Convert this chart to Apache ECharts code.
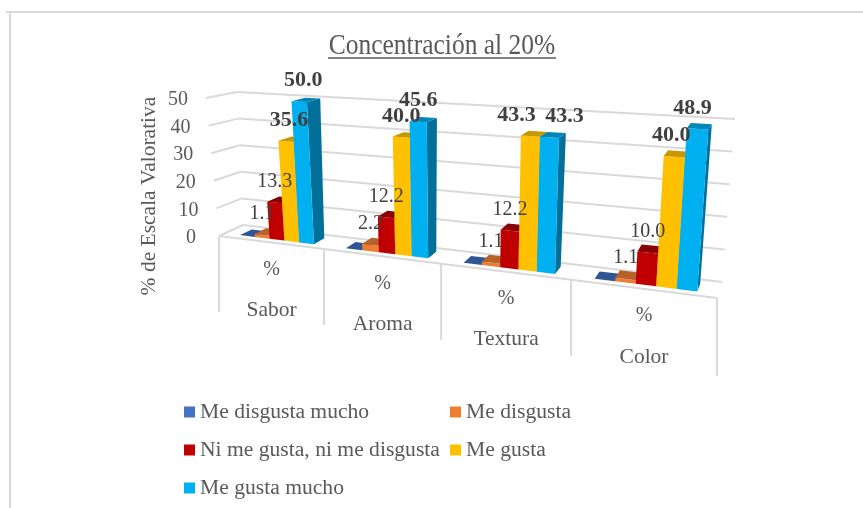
<!DOCTYPE html>
<html>
<head>
<meta charset="utf-8">
<title>Concentración al 20%</title>
<script src="https://cdn.jsdelivr.net/npm/echarts@6/dist/echarts.min.js"></script>
<style>
html, body { margin: 0; padding: 0; background: #fff; }
#chart { width: 863px; height: 508px; }
</style>
</head>
<body>
<div id="chart"></div>
<script>
// chart data
const categories = ['Sabor', 'Aroma', 'Textura', 'Color']
const yTicks = [0, 10, 20, 30, 40, 50]
const meDisgustaMucho = [0, 0, 0, 0]
const meDisgusta = [1.1, 2.2, 1.1, 1.1]
const niNi = [13.3, 12.2, 12.2, 10.0]
const meGusta = [35.6, 40.0, 43.3, 40.0]
const meGustaMucho = [50.0, 45.6, 43.3, 48.9]

const FONT = '"Liberation Serif", "Times New Roman", serif'
const TEXT = '#595959'
const LINE = '#d9d9d9'

// the value axes live on a hidden flat grid, project() tilts it into the 3D box
const flat = { left: 100, top: 100, width: 400, height: 200 }
const floorBox = { fl: [219, 236], fr: [717, 298], bl: [243, 225], br: [722, 282] }
const topBox = { fl: [206, 98], fr: [729, 130], bl: [237, 92], br: [735, 119] }
// share of the front edge taken up to each category boundary (perspective)
const edgeShare = [0, 0.211, 0.446, 0.707, 1]

const mix = (a, b, t) => [a[0] + (b[0] - a[0]) * t, a[1] + (b[1] - a[1]) * t]

function boxPoint(box, s, w) {
    return mix(mix(box.fl, box.fr, s), mix(box.bl, box.br, s), w)
}

// px,py is a point on the flat grid, w is the depth (0 front, 1 back)
function project(px, py, w) {
    let u = (px - flat.left) / flat.width * categories.length
    let i = Math.min(Math.floor(u), categories.length - 1)
    let s = edgeShare[i] + (edgeShare[i + 1] - edgeShare[i]) * (u - i)
    let v = (flat.top + flat.height - py) / flat.height
    return mix(boxPoint(floorBox, s, w), boxPoint(topBox, s, w), v)
}

function line(a, b) {
    return { type: 'line', shape: { x1: a[0], y1: a[1], x2: b[0], y2: b[1] }, style: { stroke: LINE, lineWidth: 2 } }
}

function label(text, p, size, bold, fill) {
    return {
        type: 'text',
        style: {
            text: text, x: p[0], y: p[1], fill: fill || '#404040', align: 'center', verticalAlign: 'middle',
            font: (bold ? 'bold ' : '') + size + 'px ' + FONT
        }
    }
}

function renderWall(params, api) {
    let c = api.coord([0, api.value(1)])
    let x0 = flat.left
    let x1 = flat.left + flat.width
    let front = project(x0, c[1], 0)
    let backL = project(x0, c[1], 1)
    let backR = project(x1, c[1], 1)
    let tick = label(String(api.value(1)), [front[0] - 28, front[1] + 2], 20, false, TEXT)
    return { type: 'group', children: [line(front, backL), line(backL, backR), tick] }
}

function renderCategory(params, api) {
    let i = api.value(0)
    let c = api.coord([i, 0])
    let band = api.size([1, 0])[0]
    let left = project(c[0] - band / 2, c[1], 0)
    let right = project(c[0] + band / 2 - 0.001, c[1], 0)
    let mid = mix(left, right, 0.5)
    let items = [
        line(left, right),
        line(left, [left[0], left[1] + 76]),
        label('%', [mid[0], mid[1] + 27], 20, false, TEXT),
        label(categories[i], [mid[0], mid[1] + 68], 21.5, false, TEXT)
    ]
    if (i === categories.length - 1) items.push(line(right, [right[0], right[1] + 78]))
    return { type: 'group', children: items }
}

// labels Excel had moved by hand, [series][category]
const labelShift = { '3-2': -14, '4-2': 15, '4-3': -5, '3-3': -3, '4-0': 4, '3-0': 3 }

function makeBarSeries(name, values, index, colors) {
    return {
        type: 'custom',
        name: name,
        itemStyle: { color: colors.front },
        data: values.map((v, i) => [i, v]),
        encode: { x: 0, y: 1 },
        renderItem: function (params, api) {
            let i = api.value(0)
            let value = api.value(1)
            let top = api.coord([i, value])
            let base = api.coord([i, 0])
            let band = api.size([1, 0])[0]
            let x0 = top[0] - band / 2 + band * (0.145 + index * 0.142)
            let x1 = x0 + band * 0.142
            let wf = 0.25
            let wb = 0.75
            let fTL = project(x0, top[1], wf)
            let fTR = project(x1, top[1], wf)
            let bTL = project(x0, top[1], wb)
            let bTR = project(x1, top[1], wb)
            let fBL = project(x0, base[1], wf)
            let fBR = project(x1, base[1], wf)
            let bBR = project(x1, base[1], wb)
            let faces = [
                { type: 'polygon', shape: { points: [fBR, bBR, bTR, fTR] }, style: { fill: colors.side } },
                { type: 'polygon', shape: { points: [fBL, fBR, fTR, fTL] }, style: { fill: colors.front } },
                { type: 'polygon', shape: { points: [fTL, fTR, bTR, bTL] }, style: { fill: colors.top } }
            ]
            if (value > 0) {
                let mid = mix(fTL, fTR, 0.5)
                let dx = labelShift[index + '-' + i] || 0
                let bold = index >= 3
                faces.push(Object.assign(label(value.toFixed(1), [mid[0] + dx, mid[1] - 21], bold ? 22 : 20, bold), { z2: 50 }))
            }
            return { type: 'group', children: faces }
        }
    }
}

const wallSeries = {
    type: 'custom', silent: true, data: yTicks.map(t => [0, t]), encode: { x: 0, y: 1 }, renderItem: renderWall
}
const categorySeries = {
    type: 'custom', silent: true, data: categories.map((c, i) => [i, 0]), encode: { x: 0, y: 1 }, renderItem: renderCategory
}

const names = ['Me disgusta mucho', 'Me disgusta', 'Ni me gusta, ni me disgusta', 'Me gusta', 'Me gusta mucho']
const legendText = { color: TEXT, fontFamily: FONT, fontSize: 21.6 }

const myChart = echarts.init(document.getElementById('chart'))
myChart.setOption({
    animation: false,
    backgroundColor: '#fff',
    grid: Object.assign({}, flat),
    xAxis: { type: 'category', data: categories, show: false },
    yAxis: { type: 'value', min: 0, max: 50, interval: 10, show: false },
    legend: [
        {
            left: 179, top: 396, orient: 'vertical', itemWidth: 11, itemHeight: 11, itemGap: 16,
            icon: 'rect', textStyle: legendText, data: [names[0], names[2], names[4]]
        },
        {
            left: 445, top: 396, orient: 'vertical', itemWidth: 11, itemHeight: 11, itemGap: 16,
            icon: 'rect', textStyle: legendText, data: [names[1], names[3]]
        }
    ],
    graphic: [
        { type: 'line', shape: { x1: 6, y1: 12, x2: 863, y2: 12 }, style: { stroke: LINE, lineWidth: 2 }, silent: true },
        { type: 'line', shape: { x1: 10, y1: 12, x2: 10, y2: 508 }, style: { stroke: LINE, lineWidth: 2 }, silent: true },
        {
            type: 'text', x: 442, y: 46, scaleX: 0.85, silent: true,
            style: { text: 'Concentración al 20%', fill: TEXT, font: '30px ' + FONT, align: 'center', verticalAlign: 'middle' }
        },
        { type: 'line', shape: { x1: 328, y1: 58, x2: 556, y2: 58 }, style: { stroke: TEXT, lineWidth: 1.5 }, silent: true },
        {
            type: 'text', x: 149, y: 196, rotation: Math.PI / 2, silent: true,
            style: { text: '% de Escala Valorativa', fill: TEXT, font: '21.5px ' + FONT, align: 'center', verticalAlign: 'middle' }
        }
    ],
    series: [
        wallSeries,
        categorySeries,
        makeBarSeries(names[0], meDisgustaMucho, 0, { front: '#4472c4', side: '#2f5597', top: '#2f5597' }),
        makeBarSeries(names[1], meDisgusta, 1, { front: '#ed7d31', side: '#ae5a21', top: '#b9612a' }),
        makeBarSeries(names[2], niNi, 2, { front: '#c00000', side: '#8b0000', top: '#8b0000' }),
        makeBarSeries(names[3], meGusta, 3, { front: '#ffc000', side: '#ba8c00', top: '#c99700' }),
        makeBarSeries(names[4], meGustaMucho, 4, { front: '#00b0f0', side: '#006f99', top: '#0086b8' })
    ]
})
window.addEventListener('resize', function () {
    myChart.resize()
})
</script>
</body>
</html>
